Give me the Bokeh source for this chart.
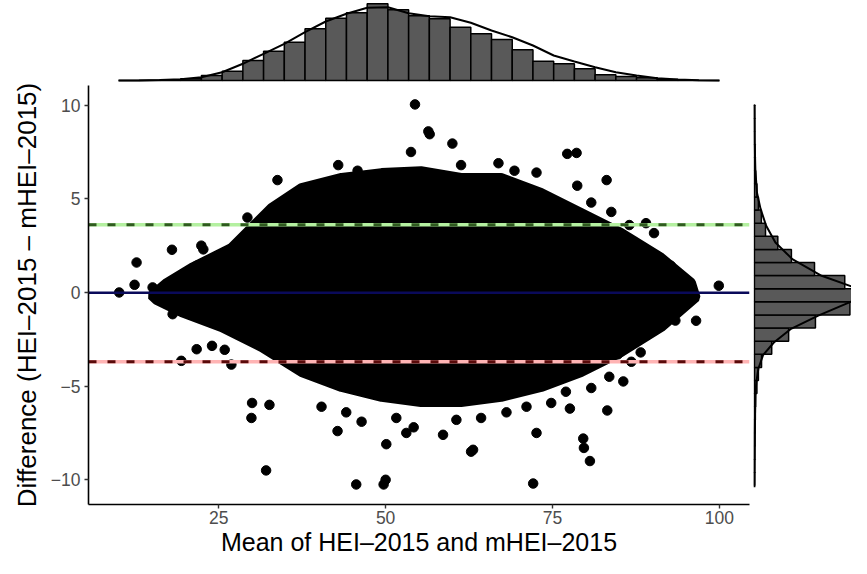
import numpy as np
from bokeh.plotting import figure
from bokeh.layouts import column, row
from bokeh.models import Range1d, FixedTicker
from bokeh.embed import file_html
from bokeh.resources import INLINE

# ---------------- data ----------------
# marginal histogram of the mean (29 bins from 10 to 100)
mean_min, mean_max = 10.0, 100.0
mean_counts = [0, 6, 14, 34, 100, 186, 400, 586, 766, 1034, 1246, 1354, 1534, 1414,
               1294, 1234, 1066, 934, 820, 614, 386, 334, 234, 114, 80, 54, 20, 6, 0]
# density curve of the mean (scaled to counts), read at bin edges
mean_dens = [0, 2, 8, 24, 66, 166, 334, 534, 734, 966, 1180, 1334, 1454, 1466, 1346,
             1286, 1266, 1154, 1000, 866, 700, 500, 380, 266, 166, 100, 46, 20, 6, 0]

# marginal histogram of the difference (29 bins from -10.3 to 10.0)
diff_min, diff_max = -10.3, 10.0
diff_counts = [6, 6, 10, 14, 16, 20, 26, 54, 86, 154, 374, 740, 1320, 2066, 2400,
               1954, 1300, 800, 506, 240, 150, 86, 54, 26, 14, 14, 6, 6, 6]
diff_dens_y = [10.04, 8.0, 6.58, 5.34, 4.45, 3.56, 2.67, 1.78, 0.89, 0.18, -0.05, -0.53,
               -1.24, -1.96, -2.67, -3.35, -4.06, -4.8, -5.5, -7.5, -10.4]
diff_dens_v = [0, 6, 20, 54, 134, 254, 454, 820, 1454, 2260, 2500, 2054,
               1380, 780, 420, 186, 86, 40, 20, 6, 0]

# Bland-Altman lines
bias = -0.02
upper_loa = 3.61
lower_loa = -3.70

# dense core of the scatter (outline of the solid black mass)
core_x = [14.9, 17.2, 20.9, 26.9, 32.9, 37.4, 43.4, 49.4, 55.3, 61.3, 67.3, 73.3, 79.3,
          85.3, 91.3, 95.8, 96.5, 91.3, 85.3, 79.3, 73.3, 67.3, 61.3, 55.3, 49.4, 43.4,
          37.4, 31.4, 25.4, 19.4, 15.7]
core_y = [-0.16, 0.53, 1.33, 2.4, 4.54, 5.6, 6.14, 6.4, 6.5, 6.14, 6.14, 5.34, 4.27,
          3.2, 1.87, 0.53, -0.27, -1.87, -3.2, -4.27, -5.07, -5.6, -5.87, -5.87, -5.6,
          -5.07, -4.27, -2.94, -1.87, -1.07, -0.43]

# individual points outside / on the edge of the dense core
pt_x = [54.4, 56.4, 56.6, 60.0, 53.8, 77.2, 78.6, 42.9, 66.9, 33.8, 83.1, 29.3,
        12.7, 12.4, 10.1, 15.1, 17.1, 18.0, 22.4, 22.7, 21.7, 19.6, 19.0, 18.1, 21.7,
        24.0, 25.9, 19.4, 26.9,
        99.9, 96.5, 93.4, 93.4, 92.7, 93.4, 91.8, 90.8, 90.2, 88.8, 88.2, 84.8, 85.6,
        83.2, 79.7, 80.6,
        32.1, 45.6, 49.7, 50.0, 72.1, 50.1, 62.8, 63.1, 58.6, 53.1, 42.8, 72.6, 79.6,
        30.0, 29.9, 77.6,
        45.8, 61.3, 69.3, 72.6, 78.7, 80.8, 83.8, 86.5, 89.0,
        32.6, 40.4, 44.1, 46.4, 51.6, 54.2, 60.6, 64.3, 68.1, 71.1, 74.8, 77.0, 80.8,
        83.5, 86.8]
pt_y = [10.04, 8.6, 8.45, 7.95, 7.5, 7.4, 7.45, 6.8, 6.9, 6.0, 6.0, 4.0,
        1.6, 0.41, 0.0, 0.27, 0.27, 2.28, 2.5, 2.3, 1.43, 0.98, 0.32, -1.16, -3.03,
        -2.85, -3.06, -3.65, -3.85,
        0.36, -1.51, -1.12, -1.5, 1.43, 1.16, 0.62, -0.98, 3.17, -2.14, -3.2, -3.3, -4.75,
        -6.3, -8.3, -9.0,
        -9.5, -10.25, -10.25, -10.0, -10.2, -8.1, -8.5, -8.4, -7.6, -7.5, -7.4, -7.5, -7.8,
        -5.9, -6.7, -6.2,
        6.5, 6.8, 6.5, 6.4, 5.7, 4.8, 4.3, 3.6, 3.7,
        -6.0, -6.1, -6.4, -6.9, -6.7, -7.2, -6.8, -6.7, -6.4, -6.1, -5.9, -5.3, -5.1,
        -4.5, -3.7]

x_ticks = [25, 50, 75, 100]
y_ticks = [-10, -5, 0, 5, 10]

# ---------------- ranges ----------------
xr = Range1d(5.5, 104.5)
yr = Range1d(-11.32, 11.05)

FONT = "Liberation Sans"
TOP_H = 82
TOTAL_H = 558
MAIN_H = TOTAL_H - TOP_H
FRAME_H = 419
LEFT = 88
RIGHT_GAP = 4
MAIN_W = LEFT + 661 + RIGHT_GAP

# ---------------- main panel ----------------
main = figure(width=MAIN_W, height=MAIN_H, x_range=xr, y_range=yr, output_backend="svg",
              toolbar_location=None, min_border_left=LEFT, min_border_right=RIGHT_GAP,
              min_border_top=3, min_border_bottom=MAIN_H - 3 - FRAME_H)
main.grid.visible = False
main.outline_line_color = None
main.background_fill_color = "white"
main.border_fill_color = "white"

main.patch(core_x, core_y, fill_color="black", line_color="black", line_width=9)
main.scatter(pt_x, pt_y, size=9.5, fill_color="black", line_color="black")

# limits of agreement
main.line([xr.start, xr.end], [upper_loa, upper_loa], line_color="#b4f0a0", line_width=3.5)
main.line([xr.start, xr.end], [upper_loa, upper_loa], line_color="#2f5a1f", line_width=3,
          line_dash="8 11")
main.line([xr.start, xr.end], [lower_loa, lower_loa], line_color="#ffb4b4", line_width=3.5)
main.line([xr.start, xr.end], [lower_loa, lower_loa], line_color="#5a0a0a", line_width=3,
          line_dash="8 11")
main.line([xr.start, xr.end], [bias, bias], line_color="#0a0a5a", line_width=2.5)

main.xaxis.ticker = FixedTicker(ticks=x_ticks)
main.yaxis.ticker = FixedTicker(ticks=y_ticks)
main.yaxis.major_label_overrides = {-10: "\u221210", -5: "\u22125"}
for ax in (main.xaxis, main.yaxis):
    ax.axis_line_color = "black"
    ax.axis_line_width = 1.6
    ax.major_tick_line_color = "#333333"
    ax.major_tick_line_width = 1.4
    ax.major_tick_out = 4
    ax.major_tick_in = 0
    ax.minor_tick_line_color = None
    ax.major_label_text_font = FONT
    ax.major_label_text_font_size = "17.5px"
    ax.major_label_text_color = "#4d4d4d"
    ax.axis_label_text_font = FONT
    ax.axis_label_text_font_style = "normal"
    ax.axis_label_text_color = "black"
main.xaxis.axis_label_text_font_size = "25px"
main.yaxis.axis_label_text_font_size = "26px"
main.xaxis.axis_label = "Mean of HEI\u20132015 and mHEI\u20132015"
main.yaxis.axis_label = "Difference (HEI\u20132015 \u2013 mHEI\u20132015)"
main.xaxis.major_label_standoff = 2
main.yaxis.major_label_standoff = 4
main.xaxis.axis_label_standoff = 1
main.yaxis.axis_label_standoff = 6

# ---------------- top marginal ----------------
top = figure(width=MAIN_W, height=TOP_H, x_range=xr, y_range=Range1d(-40, 1600),
             output_backend="svg", toolbar_location=None, min_border_left=LEFT,
             min_border_right=RIGHT_GAP, min_border_top=0, min_border_bottom=0)
top.axis.visible = False
top.grid.visible = False
top.outline_line_color = None
m_edges = np.linspace(mean_min, mean_max, len(mean_counts) + 1)
top.quad(left=m_edges[:-1], right=m_edges[1:], bottom=0, top=mean_counts,
         fill_color="#595959", line_color="black", line_width=1.5)
top.line(m_edges, mean_dens, line_color="black", line_width=2)

# ---------------- right marginal ----------------
right = figure(width=851 - MAIN_W, height=MAIN_H, x_range=Range1d(-20, 2100), y_range=yr,
               output_backend="svg", toolbar_location=None, min_border_left=0,
               min_border_right=0, min_border_top=3, min_border_bottom=MAIN_H - 3 - FRAME_H)
right.axis.visible = False
right.grid.visible = False
right.outline_line_color = None
d_edges = np.linspace(diff_min, diff_max, len(diff_counts) + 1)
right.quad(left=0, right=diff_counts, bottom=d_edges[:-1], top=d_edges[1:],
           fill_color="#595959", line_color="black", line_width=1.5)
right.line(diff_dens_v, diff_dens_y, line_color="black", line_width=2)

layout = column(top, row(main, right, spacing=0), spacing=0)
open("out.html", "w").write(file_html(layout, INLINE))
